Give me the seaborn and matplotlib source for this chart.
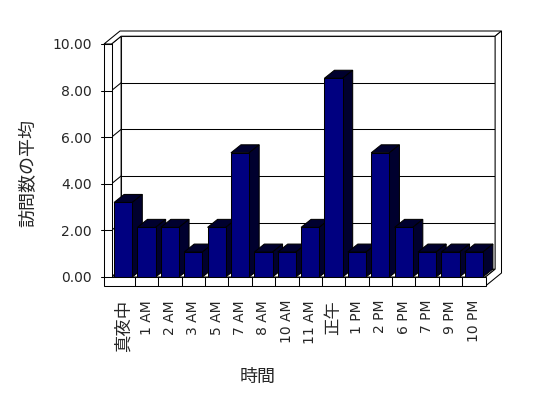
import numpy as np
import pandas as pd
import matplotlib
matplotlib.use('Agg')
import matplotlib.pyplot as plt
import seaborn as sns
from matplotlib.patches import Polygon
from matplotlib.lines import Line2D

# ---- data ----
categories = ['真夜中', '1 AM', '2 AM', '3 AM', '5 AM', '7 AM', '8 AM', '10 AM',
              '11 AM', '正午', '1 PM', '2 PM', '6 PM', '7 PM', '9 PM', '10 PM']
values = [3.2, 2.13, 2.13, 1.07, 2.13, 5.33, 1.07, 1.07,
          2.13, 8.53, 1.07, 5.33, 2.13, 1.07, 1.07, 1.07]
y_ticks = [0, 2, 4, 6, 8, 10]
y_tick_labels = ['0.00', '2.00', '4.00', '6.00', '8.00', '10.00']
x_title = '時間'
y_title = '訪問数の平均'

sns.set_theme(style='white')
plt.rcParams['font.family'] = ['DejaVu Sans', 'Noto Sans CJK JP']

W, H = 548, 398
fig = plt.figure(figsize=(W / 100, H / 100), dpi=100)
fig.patch.set_facecolor('white')
Lp, Rp, Tp, Bp = 111.5, 485.5, 44.0, 277.0
ax = fig.add_axes([Lp / W, 1 - Bp / H, (Rp - Lp) / W, (Bp - Tp) / H])
ax.set_facecolor('none')

df = pd.DataFrame({'cat': categories, 'avg': values})
sns.barplot(data=df, x='cat', y='avg', color='#000080', saturation=1, width=0.78,
            edgecolor='black', linewidth=0.75, ax=ax, errorbar=None)
n = len(categories)
ax.set_xlim(-0.5, n - 0.5)
ax.set_ylim(0, 10)

sx = (Rp - Lp) / n
sy = (Bp - Tp) / 10.0


def P(x, y, dx=0.0, dy=0.0):
    return (x + dx / sx, y + dy / sy)


din = (9.6, 7.8)     # inner back wall depth
dout = (16.0, 13.0)  # outer depth
tw = 7.5             # left wall thickness (px)
tf = 9.0             # floor thickness (px)
x0, x1 = -0.5, n - 0.5
lw = 0.75


def poly(pts, fc='white', z=1):
    ax.add_patch(Polygon(pts, closed=True, facecolor=fc, edgecolor='black',
                         linewidth=lw, clip_on=False, zorder=z))


def line(a, b, z=2):
    ax.add_line(Line2D([a[0], b[0]], [a[1], b[1]], color='black', linewidth=lw,
                       clip_on=False, zorder=z))


# back wall inner face
poly([P(x0, 0, *din), P(x1, 0, *din), P(x1, 10, *din), P(x0, 10, *din)], z=0.5)
# left wall inner face
poly([P(x0, 0), P(x0, 0, *din), P(x0, 10, *din), P(x0, 10)], z=0.6)
# floor top
poly([P(x0, 0), P(x1, 0), P(x1, 0, *din), P(x0, 0, *din)], z=0.7)
# gridlines
for v in y_ticks[1:-1]:
    line(P(x0, v, *din), P(x1, v, *din), z=0.8)
    line(P(x0, v), P(x0, v, *din), z=0.8)
# top face of walls
poly([P(x0, 10, -tw, 0), P(x0, 10), P(x0, 10, *din), P(x1, 10, *din),
      P(x1, 10, *dout), P(x0, 10, -tw + dout[0], dout[1])], z=3)
# right end face
poly([P(x1, 10, *din), P(x1, 10, *dout), P(x1, 0, dout[0], dout[1] - tf),
      P(x1, 0, 0, -tf), P(x1, 0), P(x1, 0, *din)], z=3)
# front faces (left wall + floor)
poly([P(x0, 10, -tw, 0), P(x0, 10), P(x0, 0), P(x1, 0), P(x1, 0, 0, -tf),
      P(x0, 0, -tw, -tf)], z=60)
for k in range(n - 1):
    line(P(k + 0.5, 0), P(k + 0.5, 0, 0, -tf), z=61)
for v in y_ticks:
    line(P(x0, v, -tw - 3, 0), P(x0, v), z=61)

# 3D bar faces
bd = (10.0, 8.0)
dark = '#00002e'
for i, p in enumerate(ax.patches[:n]):
    bx, bw, bh = p.get_x(), p.get_width(), p.get_height()
    p.set_zorder(11 + 2 * i)
    p.set_clip_on(False)
    poly([P(bx, bh), P(bx + bw, bh), P(bx + bw, bh, *bd), P(bx, bh, *bd)], fc=dark, z=10 + 2 * i)
    poly([P(bx + bw, 0), P(bx + bw, bh), P(bx + bw, bh, *bd), P(bx + bw, 0, *bd)], fc=dark, z=10 + 2 * i)

for s in ax.spines.values():
    s.set_visible(False)
ax.grid(False)
ax.set_yticks(y_ticks)
ax.set_yticklabels(y_tick_labels, fontsize=10)
ax.set_xticks(range(n))
ax.set_xticklabels(categories, rotation=90, fontsize=10)
for t in ax.get_xticklabels():
    if not t.get_text().isascii():
        t.set_fontsize(12.5)
ax.tick_params(axis='y', length=0, pad=14)
ax.tick_params(axis='x', length=0, pad=16.5)

ax.set_xlabel(x_title, fontsize=13)
ax.xaxis.set_label_coords((258 - Lp) / (Rp - Lp), (Bp - 377) / (Bp - Tp))
ax.xaxis.label.set_va('center')
ax.set_ylabel(y_title, fontsize=13)
ax.yaxis.set_label_coords((28 - Lp) / (Rp - Lp), (Bp - 173) / (Bp - Tp))
ax.yaxis.label.set_va('center')

fig.savefig('out.png', dpi=100, facecolor='white')
